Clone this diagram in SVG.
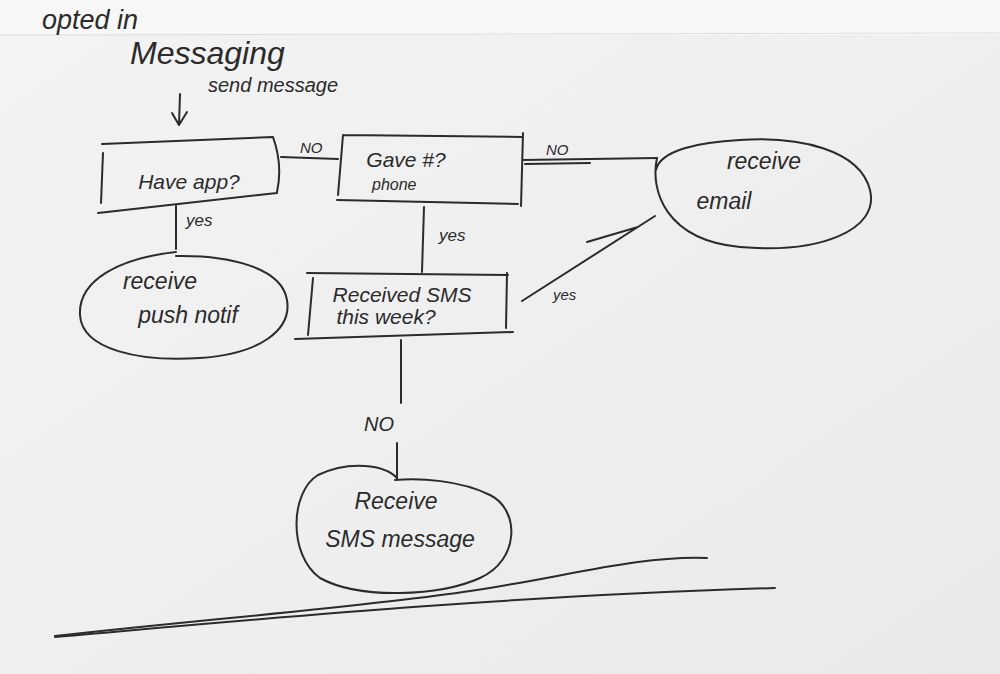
<svg xmlns="http://www.w3.org/2000/svg" width="1000" height="674" viewBox="0 0 1000 674">
<style>
.ink{fill:none;stroke:#2b2b2b;stroke-width:2;stroke-linecap:round;stroke-linejoin:round}
.t{font-family:"Liberation Sans","DejaVu Sans",sans-serif;fill:#2b2b2b;font-style:italic}
.n{font-size:21px;text-anchor:middle}
.b{font-size:23px;text-anchor:middle}
.l{font-size:15px}
</style>
<defs>
<linearGradient id="paper" x1="0" y1="0" x2="1" y2="1">
<stop offset="0" stop-color="#f3f3f3"/>
<stop offset="0.6" stop-color="#eeeeee"/>
<stop offset="1" stop-color="#e9e9e9"/>
</linearGradient>
</defs>
<rect width="1000" height="674" fill="url(#paper)"/>
<rect width="1000" height="35" fill="#f7f7f7"/>
<line x1="0" y1="35" x2="1000" y2="33" stroke="#dcdcdc" stroke-width="1"/>

<g id="title">
<text class="t" x="42" y="29" font-size="27">opted in</text>
<text class="t" x="130" y="64" font-size="32">Messaging</text>
<text class="t" x="208" y="92" font-size="20">send message</text>
</g>

<g id="connectors">
<path class="ink" d="M180 94 L179 125 M172 113 L179 125 L187 112"/>
<path class="ink" d="M281 157 L338 159"/>
<path class="ink" d="M523 160 L657 158 M525 164 L590 163"/>
<path class="ink" d="M522 301 L655 216 M587 242 L638 227"/>
<path class="ink" d="M176 206 L176 249"/>
<path class="ink" d="M424 207 L422 272"/>
<path class="ink" d="M401 340 L401 403"/>
<path class="ink" d="M397 443 L397 478"/>
<text class="t l" x="300" y="153">NO</text>
<text class="t l" x="546" y="155">NO</text>
<text class="t" x="186" y="226" font-size="17">yes</text>
<text class="t" x="439" y="241" font-size="17">yes</text>
<text class="t l" x="553" y="300">yes</text>
<text class="t" x="364" y="431" font-size="20">NO</text>
</g>

<g id="have-app">
<path class="ink" d="M102 144 L273 137 Q283 165 277 192 M98 213 L277 193 M103 153 L101 203"/>
<text class="t n" x="189" y="189">Have app?</text>
</g>

<g id="gave-phone">
<path class="ink" d="M343 135 L522 137 M343 135 L338 195 M337 200 L518 204 M523 133 L521 206"/>
<text class="t n" x="406" y="167">Gave #?</text>
<text class="t" x="372" y="190" font-size="16">phone</text>
</g>

<g id="receive-email">
<path class="ink" d="M657 158 C650 190 665 240 740 247 C820 254 880 230 870 190 C860 150 800 136 740 140 C700 142 660 150 656 170"/>
<text class="t b" x="764" y="169">receive</text>
<text class="t b" x="724" y="209">email</text>
</g>

<g id="push-notif">
<path class="ink" d="M176 252 C120 258 78 280 80 315 C82 350 140 362 200 358 C260 354 292 330 287 300 C282 268 230 255 176 256"/>
<text class="t b" x="160" y="289">receive</text>
<text class="t b" x="188" y="323">push notif</text>
</g>

<g id="received-sms">
<path class="ink" d="M307 273 L508 275 M313 278 L308 335 M295 339 L513 332 M507 273 L506 328"/>
<text class="t n" x="402" y="302">Received SMS</text>
<text class="t n" x="386" y="324">this week?</text>
</g>

<g id="receive-sms">
<path class="ink" d="M397 478 C385 465 350 460 318 475 C290 492 288 555 320 578 C360 600 440 596 480 578 C520 560 520 510 490 495 C460 480 420 478 395 480"/>
<text class="t b" x="396" y="509">Receive</text>
<text class="t b" x="400" y="547">SMS message</text>
</g>

<g id="ground">
<path class="ink" d="M55 636 C200 620 380 605 470 591 C560 578 640 555 707 558"/>
<path class="ink" d="M55 637 C250 620 500 596 775 588"/>
</g>
</svg>
